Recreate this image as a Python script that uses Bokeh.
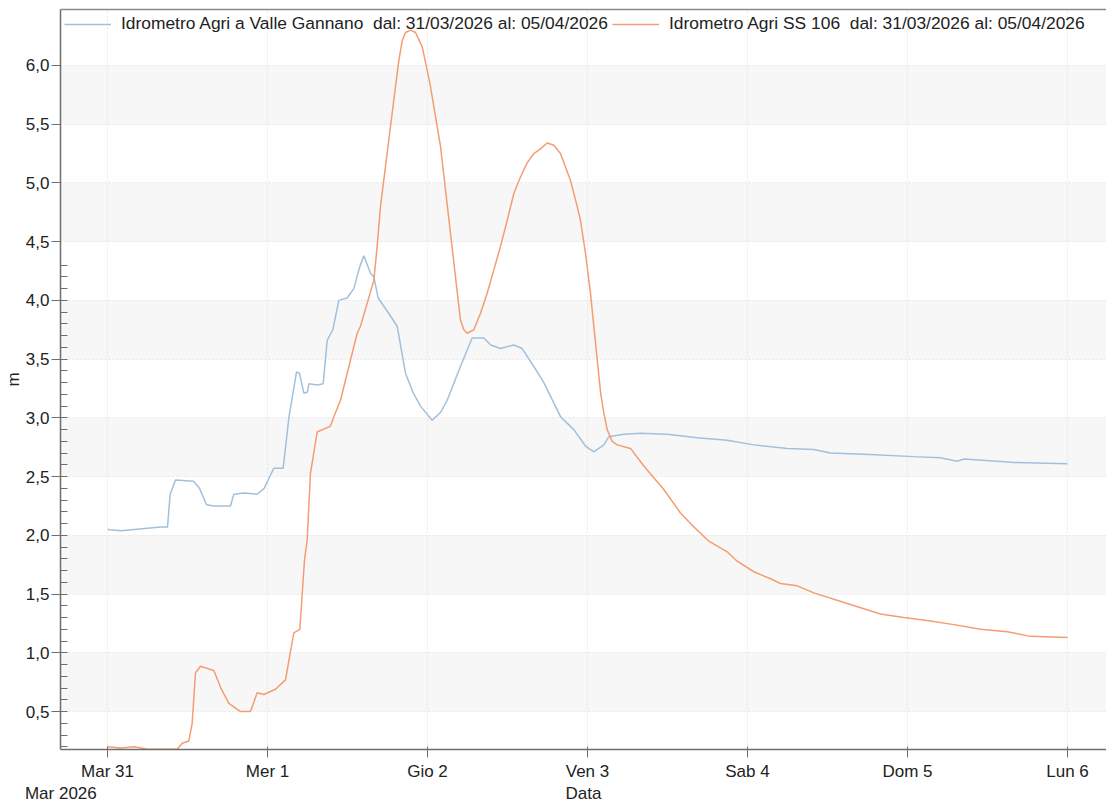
from bokeh.plotting import figure
from bokeh.models import (Range1d, FixedTicker, CustomJSTickFormatter, BoxAnnotation,
                          Legend, LegendItem, LinearAxis)
from bokeh.embed import file_html
from bokeh.resources import INLINE
from bokeh.core.properties import value

# ---- data (hours since 31/03/2026 00:00, level in m) ----
valle_hours = [0, 2, 4, 6, 8, 9, 9.4, 10.2, 12.9, 13.8, 14.85, 16, 18.45, 18.95, 20.5,
               22.45, 23.5, 24.5, 24.95, 26.35, 27.2, 28.35, 28.8, 29.45, 30.0, 30.2,
               31.5, 32.35, 32.95, 33.8, 34.7, 35.95, 36.95, 37.8, 38.45, 39.45, 39.95,
               40.6, 41.45, 42.3, 43.45, 44.7, 45.8, 46.95, 48.7, 50, 50.95, 52.95, 54.7,
               56.45, 57.5, 58.95, 60.95, 62.2, 63.8, 65.45, 67.95, 69.95, 71.7, 72.95,
               74.45, 75.2, 77.45, 79.95, 83.95, 88.45, 92.95, 96.95, 101.95, 105.95,
               108.45, 113.45, 120.95, 124.95, 127.45, 128.45, 133.45, 135.95, 144]
valle_level = [2.05, 2.04, 2.05, 2.06, 2.07, 2.07, 2.35, 2.47, 2.46, 2.40, 2.26, 2.25, 2.25,
               2.35, 2.36, 2.35, 2.40, 2.52, 2.57, 2.57, 3.00, 3.39, 3.38, 3.21, 3.22, 3.29,
               3.28, 3.29, 3.66, 3.75, 4.00, 4.02, 4.10, 4.28, 4.38, 4.23, 4.20, 4.02, 3.95,
               3.88, 3.78, 3.38, 3.22, 3.10, 2.98, 3.05, 3.15, 3.44, 3.68, 3.68, 3.62, 3.59,
               3.62, 3.59, 3.45, 3.30, 3.01, 2.90, 2.76, 2.71, 2.77, 2.84, 2.86, 2.87, 2.86,
               2.83, 2.81, 2.77, 2.74, 2.73, 2.70, 2.69, 2.67, 2.66, 2.63, 2.65, 2.63, 2.62,
               2.61]

ss106_hours = [0, 2, 4, 6, 8, 10.45, 11.2, 12.2, 12.7, 13.2, 13.95, 15.95, 17, 18.2, 19.95,
               21.45, 22.45, 23.45, 25.2, 26.7, 27.95, 28.85, 29.55, 29.95, 30.45, 31.45,
               33.45, 33.95, 34.95, 37.45, 37.95, 39.95, 40.45, 40.95, 42.45, 43.2, 43.7,
               44.2, 44.7, 45.45, 46.2, 47.2, 47.95, 48.45, 49.95, 51.45, 52.95, 53.45,
               53.95, 54.95, 55.95, 56.95, 57.95, 58.95, 59.95, 60.95, 61.95, 62.95, 63.95,
               64.95, 65.95, 66.95, 67.95, 69.45, 70.45, 70.95, 71.7, 72.45, 73.95, 74.45,
               74.95, 75.7, 76.45, 78.45, 80.45, 83.45, 85.95, 87.45, 90.2, 92.95, 94.45,
               96.95, 99.45, 100.95, 103.45, 105.95, 110.95, 115.95, 119.45, 123.45,
               126.95, 130.95, 134.95, 138.45, 144]
ss106_level = [0.20, 0.19, 0.20, 0.18, 0.18, 0.18, 0.23, 0.25, 0.40, 0.83, 0.885, 0.85, 0.70,
               0.57, 0.50, 0.50, 0.66, 0.645, 0.69, 0.77, 1.17, 1.20, 1.79, 1.96, 2.53, 2.88,
               2.93, 3.01, 3.15, 3.72, 3.78, 4.17, 4.46, 4.80, 5.48, 5.82, 6.04,
               6.21, 6.28, 6.30, 6.28, 6.16, 5.96, 5.82, 5.31, 4.57, 3.83, 3.75,
               3.72, 3.75, 3.89, 4.06, 4.26, 4.46, 4.68, 4.91, 5.05, 5.17, 5.25,
               5.29, 5.34, 5.32, 5.25, 5.02, 4.80, 4.68, 4.40, 4.06, 3.22, 3.04,
               2.90, 2.80, 2.77, 2.74, 2.59, 2.39, 2.19, 2.10, 1.95, 1.86, 1.78,
               1.69, 1.63, 1.59, 1.57, 1.51, 1.42, 1.33, 1.30, 1.27,
               1.24, 1.20, 1.18, 1.14, 1.13]

series_names = ["Idrometro Agri a Valle Gannano  dal: 31/03/2026 al: 05/04/2026",
                "Idrometro Agri SS 106  dal: 31/03/2026 al: 05/04/2026"]
day_ticks = [0, 24, 48, 72, 96, 120, 144]
day_labels = ["Mar 31", "Mer 1", "Gio 2", "Ven 3", "Sab 4", "Dom 5", "Lun 6"]
sub_ticks = [-7.0, 71.4]
sub_labels = ["Mar 2026", "Data"]
y_ticks = [0.5, 1.0, 1.5, 2.0, 2.5, 3.0, 3.5, 4.0, 4.5, 5.0, 5.5, 6.0]
y_minor = [round(0.2 + 0.1 * i, 1) for i in range(42)]
band_bottoms = [0.5, 1.5, 2.5, 3.5, 4.5, 5.5]

FONT = "Liberation Sans"
TXT = "#222222"
AX = "#6e6e6e"

p = figure(width=1106, height=805, output_backend="svg", toolbar_location=None, title=None,
           x_range=Range1d(-7.05, 149.85), y_range=Range1d(0.177, 6.476),
           min_border_left=60, min_border_right=0, min_border_top=9, min_border_bottom=55)
p.background_fill_color = "white"
p.outline_line_color = None

# grid
p.xgrid.ticker = FixedTicker(ticks=day_ticks)
p.ygrid.ticker = FixedTicker(ticks=y_ticks)
for g in (p.xgrid[0], p.ygrid[0]):
    g.grid_line_color = "#e6e6e6"
    g.grid_line_dash = "2 2"
    g.grid_line_width = 1

bands = [BoxAnnotation(bottom=b, top=b + 0.5, fill_color="#f7f7f7", fill_alpha=1.0,
                       line_alpha=0, level="underlay") for b in band_bottoms]
p.center = bands + list(p.center)

r1 = p.line(valle_hours, valle_level, line_color="#a2c0dc", line_width=1.5)
r2 = p.line(ss106_hours, ss106_level, line_color="#f59c72", line_width=1.5)


def style(ax):
    ax.axis_line_color = AX
    ax.axis_line_width = 1.5
    ax.major_tick_line_color = AX
    ax.minor_tick_line_color = AX
    ax.major_label_text_font = FONT
    ax.major_label_text_font_size = "17px"
    ax.major_label_text_color = TXT
    ax.axis_label_text_font = FONT
    ax.axis_label_text_font_size = "17px"
    ax.axis_label_text_font_style = "normal"
    ax.axis_label_text_color = TXT
    ax.axis_label_standoff = 0


# x axis (day ticks)
xa = p.xaxis[0]
style(xa)
xa.ticker = FixedTicker(ticks=day_ticks, minor_ticks=[])
xa.major_label_overrides = {t: l for t, l in zip(day_ticks, day_labels)}
xa.major_tick_out = 8
xa.major_tick_in = 3
xa.minor_tick_out = 0
xa.minor_tick_in = 0
xa.major_label_standoff = 4

# second row under the x axis: "Mar 2026" and "Data"
xa2 = LinearAxis(ticker=FixedTicker(ticks=sub_ticks, minor_ticks=[]))
style(xa2)
xa2.major_label_overrides = {t: l for t, l in zip(sub_ticks, sub_labels)}
xa2.axis_line_color = None
xa2.major_tick_line_color = None
xa2.major_tick_out = 0
xa2.major_tick_in = 0
xa2.minor_tick_out = 0
xa2.minor_tick_in = 0
xa2.major_label_standoff = 0
p.add_layout(xa2, "below")

# top frame line
top = LinearAxis(ticker=FixedTicker(ticks=[], minor_ticks=[]))
top.axis_line_color = "#8a8a8a"
top.axis_line_width = 1.5
top.major_tick_out = 0
top.major_tick_in = 0
top.minor_tick_out = 0
top.minor_tick_in = 0
top.major_label_text_font_size = "0px"
p.add_layout(top, "above")

ya = p.yaxis[0]
style(ya)
ya.ticker = FixedTicker(ticks=y_ticks, minor_ticks=y_minor)
ya.formatter = CustomJSTickFormatter(code="return tick.toFixed(1).replace('.', ',');")
ya.axis_label = "m"
ya.major_tick_out = 9
ya.major_tick_in = 0
ya.minor_tick_in = 7
ya.minor_tick_out = 0
ya.major_label_standoff = 2

legend = Legend(items=[LegendItem(label=value(series_names[0]), renderers=[r1]),
                       LegendItem(label=value(series_names[1]), renderers=[r2])],
                orientation="horizontal", location="top_left", margin=0, padding=4,
                spacing=4, glyph_width=47, label_standoff=10,
                label_text_font=FONT, label_text_font_size="17.4px", label_text_color=TXT,
                background_fill_alpha=0, border_line_alpha=0)
p.add_layout(legend)

open("out.html", "w").write(file_html(p, INLINE))
